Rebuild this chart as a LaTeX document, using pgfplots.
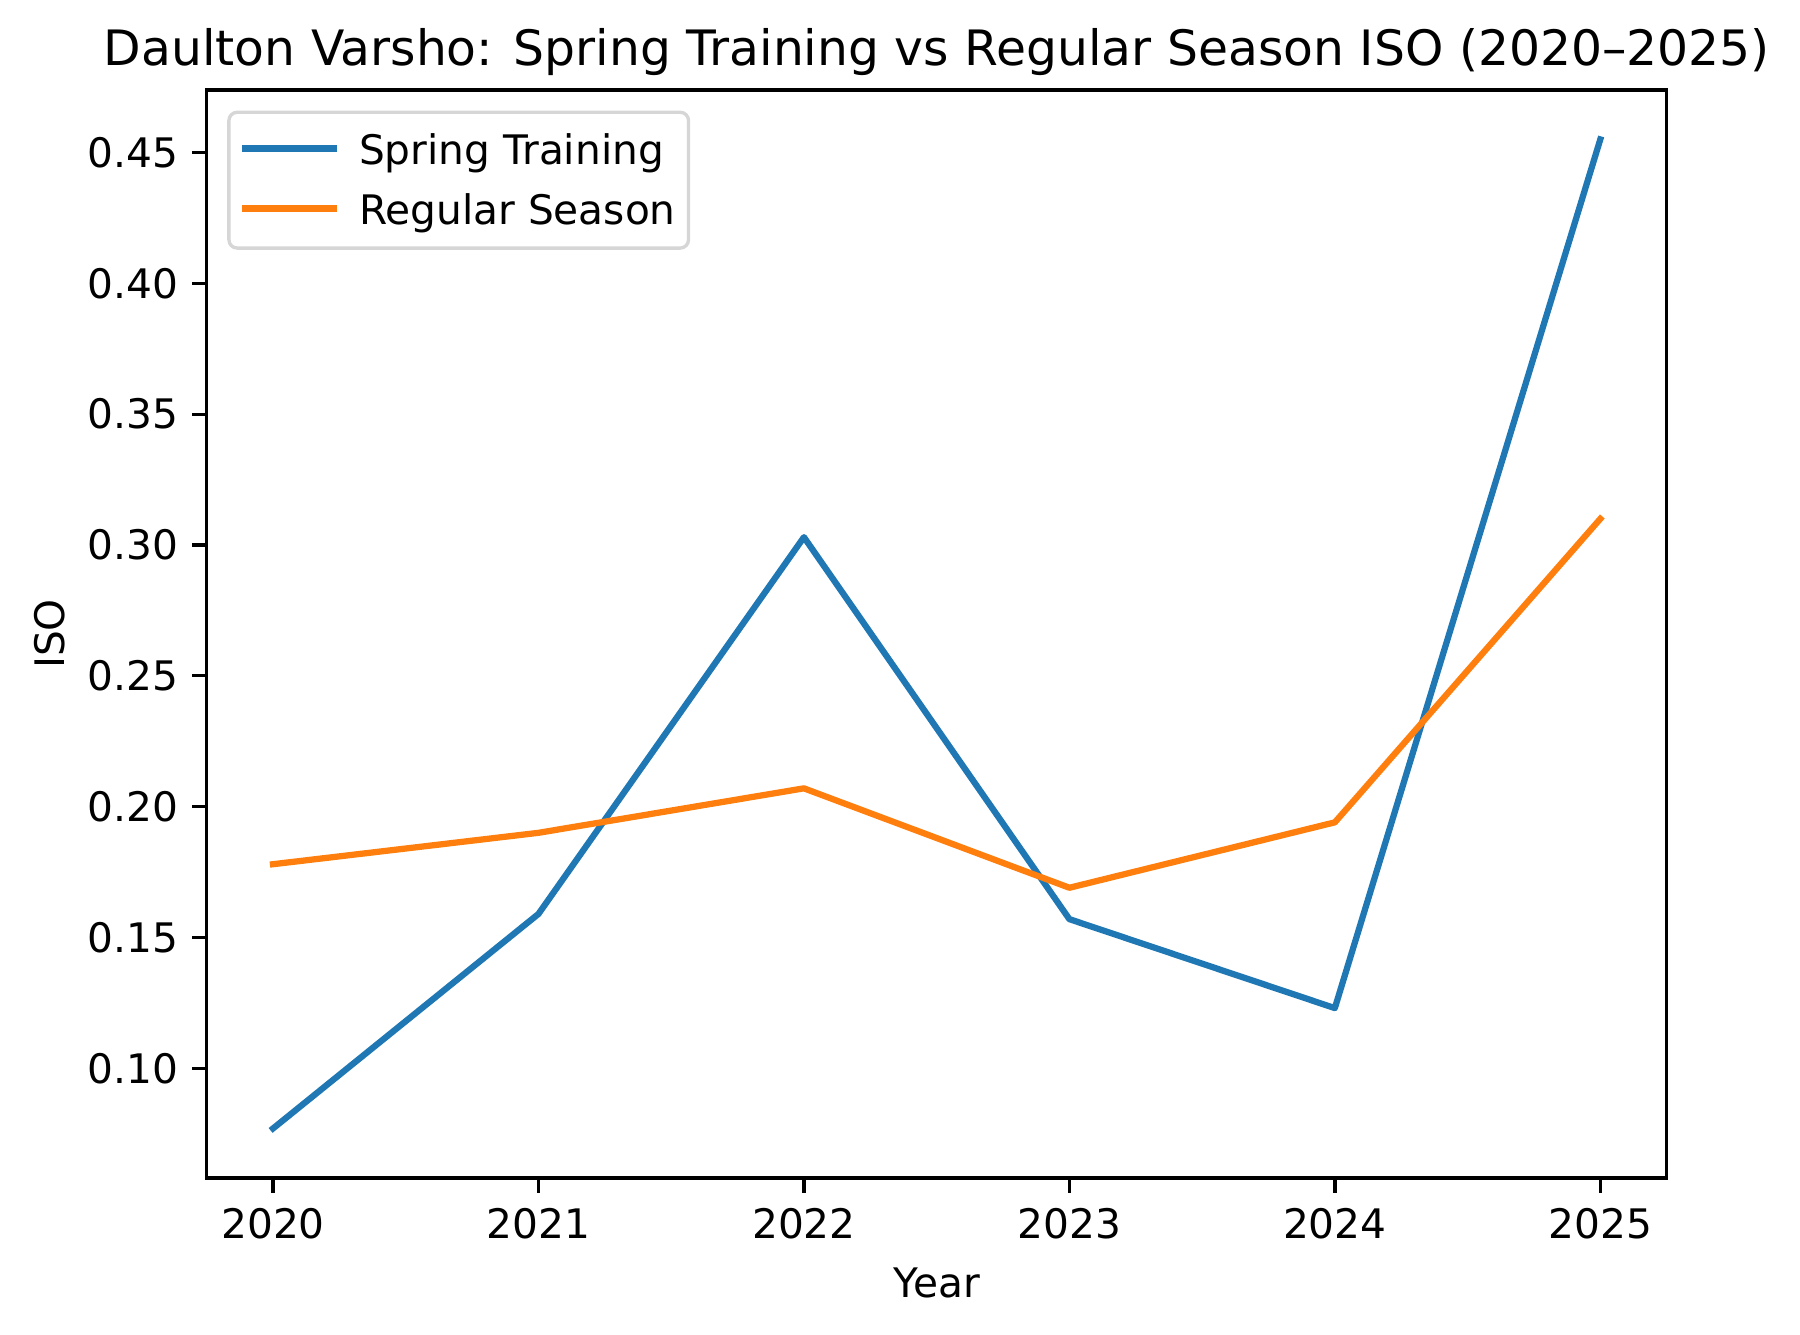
\documentclass[border=0pt]{standalone}
\usepackage{fontspec}
\setmainfont{DejaVu Sans}
\usepackage{pgfplots}
\pgfplotsset{compat=1.18}

\definecolor{tabblue}{HTML}{1F77B4}
\definecolor{taborange}{HTML}{FF7F0E}

% Isolated power by season
\pgfplotstableread{
year  spring  regular
2020  0.077   0.178
2021  0.159   0.190
2022  0.303   0.207
2023  0.157   0.169
2024  0.123   0.194
2025  0.455   0.310
}\isodata

\newcommand\basefont{\fontsize{9.8}{11.8}\selectfont}

\begin{document}
\begin{tikzpicture}
\useasboundingbox (-49.6bp,-37.7bp) rectangle (382.4bp,282.7bp);
\begin{axis}[
  anchor=south west, at={(0,0)},
  scale only axis, width=350.4bp, height=261.1bp,
  xmin=2019.75, xmax=2025.25, ymin=0.0581, ymax=0.4739,
  xtick={2020,2021,2022,2023,2024,2025},
  ytick={0.10,0.15,0.20,0.25,0.30,0.35,0.40,0.45},
  tick pos=left, tick align=outside,
  major tick length=3.5bp,
  every tick/.style={line width=0.8bp, black},
  axis line style={line width=0.8bp},
  /pgf/number format/assume math mode=true,
  tick label style={font=\basefont, inner sep=0pt},
  xticklabel style={anchor=north, yshift=-3.5bp, /pgf/number format/1000 sep={}},
  yticklabel style={anchor=east, xshift=-3.2bp, /pgf/number format/.cd, fixed, fixed zerofill, precision=2},
  title={Daulton Varsho: Spring Training vs Regular Season ISO (2020–2025)},
  title style={at={(axis description cs:0.5,1)}, anchor=base, inner sep=0pt,
    font=\fontsize{11.75}{14}\selectfont},
  xlabel={Year},
  xlabel style={at={(axis description cs:0.5,0)}, anchor=base, yshift=-28.6bp, inner sep=0pt,
    font=\basefont},
  ylabel={ISO},
  ylabel style={at={([xshift=-34bp]axis description cs:0,0.5)}, anchor=base, inner sep=0pt,
    font=\basefont},
  legend style={at={(0,1)}, anchor=north west, xshift=4.94bp, yshift=-4.94bp,
    draw=black!16, line width=0.8bp, rounded corners=2bp, fill=white,
    inner xsep=3.06bp, inner ysep=4bp, row sep=4.2bp, column sep=5.4bp,
    font=\basefont,
    nodes={anchor=base west, inner sep=0pt, text height=8.6bp, text depth=1.6bp}},
  legend image code/.code={\draw[#1] (0bp,3.9bp) -- (21.3bp,3.9bp);},
  every axis plot/.append style={line width=1.5bp, line join=round, line cap=rect},
]
\addplot[tabblue] table[x=year, y=spring] {\isodata};
\addlegendentry{Spring Training}
\addplot[taborange] table[x=year, y=regular] {\isodata};
\addlegendentry{Regular Season\hspace{1.2bp}}
\end{axis}
\end{tikzpicture}
\end{document}
